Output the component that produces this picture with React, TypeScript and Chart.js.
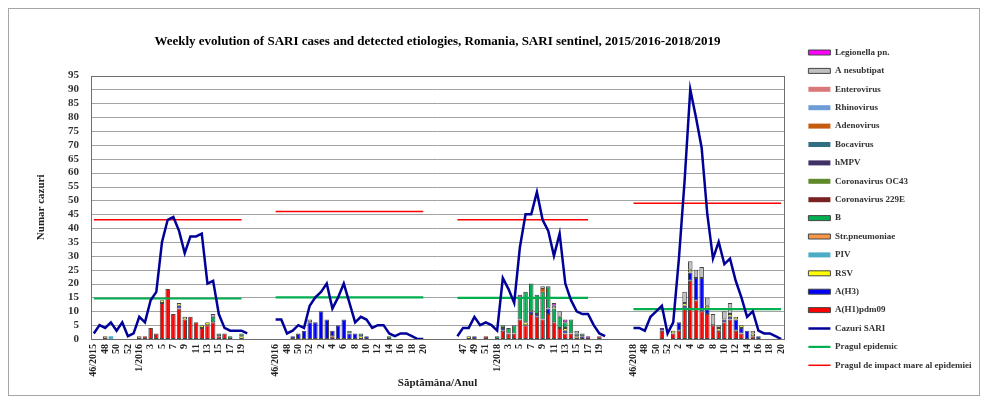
import React, { useEffect, useRef } from 'react';
import { Chart, registerables } from 'chart.js';

Chart.register(...registerables);

const SERIF = "'Liberation Serif', 'Times New Roman', serif";

const TITLE = 'Weekly evolution of SARI cases and detected etiologies, Romania, SARI sentinel, 2015/2016-2018/2019';
const Y_TITLE = 'Numar cazuri';
const X_TITLE = 'Săptămâna/Anul';

// ---- tick labels (one entry per week; '' = week without a printed label) ----
const S1_TICKS = ['46/2015', '', '48', '', '50', '', '52', '', '1/2016', '', '3', '', '5', '', '7', '', '9', '', '11', '', '13', '', '15', '', '17', '', '19', ''];
const S2_TICKS = ['46/2016', '', '48', '', '50', '', '52', '', '2', '', '4', '', '6', '', '8', '', '10', '', '12', '', '14', '', '16', '', '18', '', '20'];
const S3_TICKS = ['', '47', '', '49', '', '51', '', '1/2018', '', '3', '', '5', '', '7', '', '9', '', '11', '', '13', '', '15', '', '17', '', '19', ''];
const S4_TICKS = ['46/2018', '', '48', '', '50', '', '52', '', '2', '', '4', '', '6', '', '8', '', '10', '', '12', '', '14', '', '16', '', '18', '', '20'];
const SEASON_TICKS = [S1_TICKS, S2_TICKS, S3_TICKS, S4_TICKS];
// empty categories after each season
const GAPS = [4, 5, 4, 0];

// ---- SARI cases (line) ----
const SARI_S1 = [2, 5, 4, 6, 3, 6, 1, 2, 8, 6, 14, 17, 35, 43, 44, 39, 31, 37, 37, 38, 20, 21, 9, 4, 3, 3, 3, 2];
const SARI_S2 = [7, 7, 2, 3, 5, 4, 12, 15, 17, 20, 11, 15, 20, 13, 6, 8, 7, 4, 5, 5, 2, 1, 2, 2, 1, 0, 0];
const SARI_S3 = [1, 4, 4, 8, 5, 6, 5, 3, 22, 18, 13, 33, 45, 45, 53, 43, 39, 30, 38, 20, 14, 10, 9, 9, 5, 2, 1];
const SARI_S4 = [4, 4, 3, 8, 10, 12, 2, 6, 29, 57, 90, 80, 69, 45, 29, 35, 27, 29, 21, 15, 8, 10, 3, 2, 2, 1, 0];

// ---- thresholds per season ----
const EPI_THRESHOLD = [14.6, 15, 14.8, 10.8];
const HIGH_THRESHOLD = [43, 46, 43, 49];
const THRESHOLD_WEEKS = [27, 27, 24, 27];

// ---- detected etiologies (stacked bars) ----
const H1_S1 = [0, 0, 0, 0, 0, 0, 0, 0, 0, 1, 4, 2, 13, 18, 9, 11, 7, 8, 6, 4, 5, 6, 1, 2, 0, 0, 0, 0];
const H3_S1 = [0, 0, 0, 0, 0, 0, 0, 0, 0, 0, 0, 0, 0, 0, 0, 1, 0, 0, 0, 0, 0, 0, 0, 0, 0, 0, 0, 0];
const RSV_S1 = [0, 0, 0, 0, 0, 0, 0, 0, 0, 0, 0, 0, 1, 0, 0, 1, 1, 0, 0, 1, 1, 0, 0, 0, 0, 0, 1, 0];
const PIV_S1 = [0, 0, 0, 1, 0, 0, 0, 0, 0, 0, 0, 0, 0, 0, 0, 0, 0, 0, 0, 0, 0, 0, 0, 0, 0, 0, 0, 0];
const STR_S1 = [0, 0, 1, 0, 0, 0, 0, 0, 1, 0, 0, 0, 0, 0, 0, 0, 0, 0, 0, 0, 0, 0, 0, 0, 0, 0, 0, 0];
const B_S1 = [0, 0, 0, 0, 0, 0, 0, 0, 0, 0, 0, 0, 0, 0, 0, 0, 0, 0, 0, 0, 0, 2, 1, 0, 1, 0, 1, 0];
const NES_S1 = [0, 0, 0, 0, 0, 0, 0, 0, 0, 0, 0, 0, 0, 0, 0, 0, 0, 0, 0, 0, 0, 1, 0, 0, 0, 0, 0, 0];

const H1_S2 = [0, 0, 0, 0, 0, 0, 0, 0, 0, 0, 1, 0, 0, 0, 0, 0, 0, 0, 0, 0, 0, 0, 0, 0, 0, 0, 0];
const H3_S2 = [0, 0, 0, 1, 2, 3, 6, 6, 10, 7, 2, 5, 7, 2, 2, 0, 1, 0, 0, 0, 0, 0, 0, 0, 0, 0, 0];
const RSV_S2 = [0, 0, 0, 0, 0, 0, 0, 0, 0, 0, 0, 0, 0, 0, 0, 1, 0, 0, 0, 0, 0, 0, 0, 0, 0, 0, 0];
const B_S2 = [0, 0, 0, 0, 0, 0, 0, 0, 0, 0, 0, 0, 0, 1, 0, 1, 0, 0, 0, 0, 1, 0, 0, 0, 0, 0, 0];
const NES_S2 = [0, 0, 0, 0, 0, 0, 1, 0, 0, 0, 0, 0, 0, 0, 0, 0, 0, 0, 0, 0, 0, 0, 0, 0, 0, 0, 0];

const H1_S3 = [0, 0, 0, 0, 0, 1, 0, 0, 3, 2, 2, 7, 5, 9, 8, 7, 9, 6, 4, 2, 2, 0, 0, 0, 0, 1, 0];
const H3_S3 = [0, 0, 0, 1, 0, 0, 0, 0, 1, 0, 0, 0, 0, 1, 1, 0, 2, 0, 0, 1, 0, 0, 1, 0, 0, 0, 0];
const RSV_S3 = [0, 0, 1, 0, 0, 0, 0, 0, 0, 0, 0, 0, 1, 0, 0, 0, 0, 0, 0, 1, 0, 0, 0, 0, 0, 0, 0];
const B_S3 = [0, 0, 0, 0, 0, 0, 0, 1, 1, 2, 3, 8, 11, 10, 7, 10, 8, 5, 4, 2, 5, 1, 1, 0, 0, 0, 0];
const NES_S3 = [0, 0, 0, 0, 0, 0, 0, 0, 0, 0, 0, 0, 0, 0, 0, 1, 0, 1, 2, 0, 0, 1, 0, 0, 0, 0, 0];
const LEG_S3 = [0, 0, 0, 0, 0, 0, 0, 0, 0, 0, 0, 1, 0, 0, 0, 0, 0, 1, 0, 1, 0, 0, 0, 1, 0, 0, 0];
const ADENO_S3 = [0, 0, 0, 0, 0, 0, 0, 0, 0, 0, 0, 0, 0, 0, 0, 1, 0, 0, 0, 0, 0, 0, 0, 0, 0, 0, 0];
const STR_S3 = [0, 0, 0, 0, 0, 0, 0, 0, 0, 0, 0, 0, 0, 0, 0, 0, 0, 0, 0, 0, 0, 1, 0, 0, 0, 0, 0];

const H1_S4 = [0, 0, 0, 0, 0, 3, 0, 2, 3, 11, 21, 14, 10, 9, 5, 3, 6, 7, 3, 2, 0, 1, 0, 0, 0, 0, 0];
const H3_S4 = [0, 0, 0, 0, 0, 1, 0, 0, 3, 1, 3, 8, 12, 2, 0, 0, 1, 1, 4, 2, 3, 0, 1, 0, 0, 0, 0];
const RSV_S4 = [0, 0, 0, 0, 0, 0, 0, 1, 0, 1, 1, 0, 0, 1, 0, 1, 0, 1, 1, 1, 0, 1, 0, 0, 0, 0, 0];
const NES_S4 = [0, 0, 0, 0, 0, 0, 0, 0, 0, 4, 3, 3, 4, 3, 4, 1, 3, 4, 0, 0, 0, 1, 0, 0, 0, 0, 0];

type Part = number[] | null;

// legend order, top to bottom (stacking is the reverse: A(H1)pdm09 at the bottom)
const ETIOLOGIES: { label: string; color: string; border: boolean; parts: Part[] }[] = [
  { label: 'Legionella pn.', color: '#ff00ff', border: true, parts: [null, null, LEG_S3, null] },
  { label: 'A nesubtipat', color: '#c0c0c0', border: true, parts: [NES_S1, NES_S2, NES_S3, NES_S4] },
  { label: 'Enterovirus', color: '#d97878', border: false, parts: [null, null, null, null] },
  { label: 'Rhinovirus', color: '#6f9bd6', border: false, parts: [null, null, null, null] },
  { label: 'Adenovirus', color: '#c55a11', border: false, parts: [null, null, ADENO_S3, null] },
  { label: 'Bocavirus', color: '#2f6f7f', border: false, parts: [null, null, null, null] },
  { label: 'hMPV', color: '#3f3163', border: false, parts: [null, null, null, null] },
  { label: 'Coronavirus OC43', color: '#5f8a2c', border: false, parts: [null, null, null, null] },
  { label: 'Coronavirus 229E', color: '#7a2222', border: false, parts: [null, null, null, null] },
  { label: 'B', color: '#00b050', border: true, parts: [B_S1, B_S2, B_S3, null] },
  { label: 'Str.pneumoniae', color: '#f79646', border: true, parts: [STR_S1, null, STR_S3, null] },
  { label: 'PIV', color: '#4bacc6', border: false, parts: [PIV_S1, null, null, null] },
  { label: 'RSV', color: '#ffff00', border: true, parts: [RSV_S1, RSV_S2, RSV_S3, RSV_S4] },
  { label: 'A(H3)', color: '#0000ff', border: true, parts: [H3_S1, H3_S2, H3_S3, H3_S4] },
  { label: 'A(H1)pdm09', color: '#ff0000', border: true, parts: [H1_S1, H1_S2, H1_S3, H1_S4] },
];

const LINE_LABELS = ['Cazuri SARI', 'Pragul epidemic', 'Pragul de impact mare al epidemiei'];
const LEGEND_ORDER = [...ETIOLOGIES.map((e) => e.label), ...LINE_LABELS];

function joinSeasons(parts: Part[], keepZero: boolean): (number | null)[] {
  const out: (number | null)[] = [];
  parts.forEach((p, s) => {
    const n = SEASON_TICKS[s].length;
    for (let i = 0; i < n; i++) {
      const v = p ? p[i] : 0;
      out.push(v === undefined ? null : keepZero ? v : v ? v : null);
    }
    for (let g = 0; g < GAPS[s]; g++) out.push(null);
  });
  return out;
}

function thresholdParts(values: number[]): number[][] {
  return values.map((v, s) => SEASON_TICKS[s].map((_, i) => (i < THRESHOLD_WEEKS[s] ? v : (undefined as any))));
}

// horizontal gridlines + plot frame (drawn under the datasets)
const frame = {
  id: 'frame',
  beforeDatasetsDraw(chart: any) {
    const { ctx, chartArea, scales } = chart;
    const y = scales.y;
    ctx.save();
    ctx.strokeStyle = '#a3a3a3';
    ctx.lineWidth = 1;
    y.ticks.forEach((t: any) => {
      const py = Math.round(y.getPixelForValue(t.value)) + 0.5;
      ctx.beginPath();
      ctx.moveTo(chartArea.left, py);
      ctx.lineTo(chartArea.right, py);
      ctx.stroke();
    });
    ctx.strokeStyle = '#6e6e6e';
    ctx.strokeRect(Math.round(chartArea.left) + 0.5, Math.round(chartArea.top) + 0.5,
      Math.round(chartArea.right - chartArea.left), Math.round(chartArea.bottom - chartArea.top));
    ctx.restore();
  },
};

export default function App() {
  const ref = useRef<HTMLCanvasElement | null>(null);

  useEffect(() => {
    if (!ref.current) return;
    const labels: string[] = [];
    SEASON_TICKS.forEach((t, s) => {
      labels.push(...t);
      for (let g = 0; g < GAPS[s]; g++) labels.push('');
    });

    const barSets = [...ETIOLOGIES].reverse().map((e) => ({
      type: 'bar' as const,
      label: e.label,
      data: joinSeasons(e.parts, false),
      backgroundColor: e.color,
      borderColor: e.border ? '#454545' : e.color,
      borderWidth: e.border ? 1 : 0,
      borderSkipped: false,
      stack: 'etio',
      order: 2,
      pointStyle: 'rect',
      barPercentage: 0.8,
      categoryPercentage: 1,
    }));

    const lineSet = (label: string, data: (number | null)[], color: string, width: number, stack: string) => ({
      type: 'line' as const,
      label,
      data,
      borderColor: color,
      backgroundColor: color,
      borderWidth: width,
      pointRadius: 0,
      pointHoverRadius: 0,
      pointStyle: 'line',
      pointBorderWidth: width,
      pointBorderColor: color,
      pointBackgroundColor: color,
      tension: 0,
      spanGaps: false,
      fill: false,
      stack,
      order: 0,
    });

    const datasets: any[] = [
      lineSet(LINE_LABELS[0], joinSeasons([SARI_S1, SARI_S2, SARI_S3, SARI_S4], true), '#000099', 2.5, 'sari'),
      lineSet(LINE_LABELS[2], joinSeasons(thresholdParts(HIGH_THRESHOLD), true), '#ff0000', 1.5, 'high'),
      lineSet(LINE_LABELS[1], joinSeasons(thresholdParts(EPI_THRESHOLD), true), '#00b050', 2.2, 'epi'),
      ...barSets,
    ];

    const chart = new Chart(ref.current, {
      type: 'bar',
      data: { labels, datasets },
      options: {
        responsive: false,
        animation: false,
        events: [],
        layout: { padding: { top: 20, left: 0, right: 0, bottom: 0 } },
        plugins: {
          title: {
            display: true,
            text: TITLE,
            fullSize: false,
            color: '#000',
            font: { family: SERIF, size: 13, weight: 'bold' },
            padding: { top: 5, bottom: 26 },
          },
          legend: {
            position: 'right',
            align: 'start',
            maxWidth: 180,
            title: { display: true, text: ' ', padding: 0, font: { size: 8 } },
            labels: {
              usePointStyle: true,
              pointStyleWidth: 22,
              boxHeight: 5,
              padding: 9.4,
              color: '#333',
              font: { family: SERIF, size: 9, weight: 'bold' },
              sort: (a: any, b: any) => LEGEND_ORDER.indexOf(a.text) - LEGEND_ORDER.indexOf(b.text),
            },
          },
          tooltip: { enabled: false },
        },
        scales: {
          x: {
            stacked: true,
            offset: true,
            grid: { display: false, drawTicks: false },
            border: { display: false },
            ticks: {
              autoSkip: false,
              maxRotation: 90,
              minRotation: 90,
              padding: 5,
              color: '#222',
              font: { family: SERIF, size: 10, weight: 'bold' },
            },
            title: {
              display: true,
              text: X_TITLE,
              color: '#222',
              font: { family: SERIF, size: 11, weight: 'bold' },
              padding: { top: 0, bottom: 5 },
            },
            afterFit: (s: any) => { s.height = 56; },
          },
          y: {
            stacked: true,
            min: 0,
            max: 95,
            ticks: { stepSize: 5, autoSkip: false, padding: 12, color: '#333', font: { family: SERIF, size: 11, weight: 'bold' } },
            grid: { display: false, drawTicks: false },
            border: { display: false },
            title: {
              display: true,
              text: Y_TITLE,
              color: '#222',
              font: { family: SERIF, size: 11, weight: 'bold' },
              padding: { top: 26, bottom: 0 },
            },
            afterFit: (s: any) => { s.width = 82; },
          },
          yR: {
            position: 'right',
            display: true,
            ticks: { display: false },
            grid: { display: false, drawTicks: false },
            border: { display: false },
            afterFit: (s: any) => { s.width = 15; },
          },
        },
      } as any,
      plugins: [frame],
    });
    return () => chart.destroy();
  }, []);

  return (
    <div style={{ width: 972, height: 388, border: '1px solid #a6a6a6', boxSizing: 'border-box', background: '#fff' }}>
      <canvas ref={ref} width={970} height={386} style={{ display: 'block' }} />
    </div>
  );
}
